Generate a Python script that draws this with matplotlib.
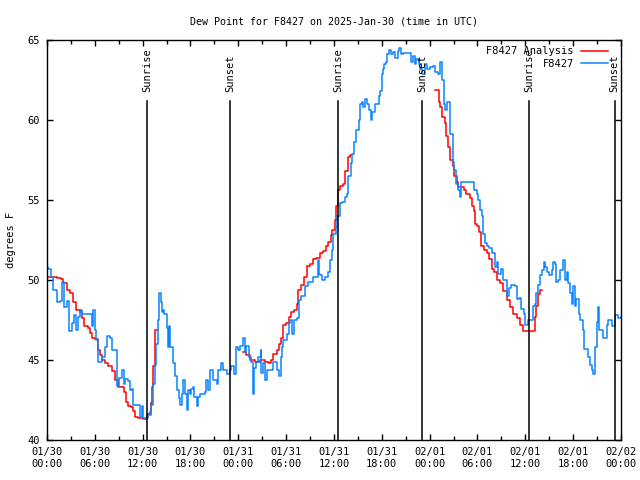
import numpy as np
import pandas as pd
import matplotlib
matplotlib.use("Agg")
import matplotlib.pyplot as plt
import matplotlib.dates as mdates

# -----------------------------
# Data (hours after 2025-01-30 00:00 UTC)
# -----------------------------
START = pd.Timestamp("2025-01-30 00:00")

obs_hours = [
    0.0, 0.16, 0.5, 0.8, 1.2, 1.6, 1.9, 2.1, 2.5, 2.7, 3.1, 3.4, 3.7, 3.9, 4.1, 4.4,
    5.4, 5.6, 5.8, 6.0, 6.2, 6.4, 6.9, 7.3, 7.5, 7.9, 8.1, 8.5, 8.75, 9.0, 9.4, 9.6,
    9.8, 10.2, 10.4, 10.6, 10.8, 11.4, 11.7, 11.9, 12.1, 12.3, 12.7, 13.0, 13.1, 13.3,
    13.5, 13.7, 13.9, 14.1, 14.3, 14.4, 14.6, 14.7, 15.0, 15.2, 15.3, 15.45, 15.85,
    16.1, 16.3, 16.5, 16.7, 16.9, 17.1, 17.3, 17.5, 17.7, 17.9, 18.1, 18.35, 18.5,
    18.8, 19.0, 19.2, 19.8, 20.0, 20.2, 20.5, 20.8, 21.3, 21.5, 21.8, 22.1, 22.6,
    22.9, 23.1, 23.5, 23.7, 24.0, 24.2, 24.55, 24.8, 25.0, 25.4, 25.6, 25.8, 26.0,
    26.2, 26.5, 26.8, 26.9, 27.1, 27.4, 27.6, 28.0, 28.4, 28.8, 29.1, 29.3, 29.5,
    29.65, 30.1, 30.3, 30.5, 30.7, 31.0, 31.4, 31.65, 31.9, 32.4, 32.8, 33.2, 33.4,
    33.8, 33.95, 34.1, 34.3, 34.5, 34.9, 35.2, 35.5, 35.7, 35.9, 36.3, 36.4, 36.7,
    37.0, 37.4, 37.6, 37.8, 38.1, 38.2, 38.5, 38.8, 39.1, 39.3, 39.5, 39.6, 39.9,
    40.2, 40.4, 40.6, 40.8, 41.15, 41.6, 41.8, 42.0, 42.2, 42.3, 42.5, 42.7, 42.95,
    43.1, 43.4, 43.7, 44.0, 44.2, 44.4, 44.7, 45.1, 45.4, 45.6, 45.9, 46.1, 46.3,
    46.6, 46.8, 47.1, 47.4, 47.7, 48.0, 48.4, 48.7, 49.1, 49.3, 49.5, 49.8, 49.9,
    50.2, 50.5, 50.6, 50.9, 51.1, 51.3, 51.6, 51.8, 51.9, 53.3, 53.5, 53.9, 54.1,
    54.3, 54.6, 54.75, 55.0, 55.2, 55.5, 55.8, 56.2, 56.4, 56.6, 57.0, 57.25, 57.75,
    57.9, 58.2, 58.7, 58.9, 59.2, 59.5, 59.8, 60.0, 60.3, 60.8, 60.9, 61.2, 61.4,
    61.6, 61.8, 62.1, 62.3, 62.5, 62.7, 63.0, 63.3, 63.5, 63.7, 63.9, 64.1, 64.3,
    64.7, 65.0, 65.2, 65.4, 65.6, 65.8, 66.0, 66.25, 66.4, 66.7, 66.9, 67.2, 67.4,
    67.9, 68.1, 68.3, 68.5, 68.7, 69.0, 69.1, 69.3, 69.8, 70.2, 70.4, 70.9, 71.3,
    71.6, 72.0,
]
obs_dewpt = [
    50.8, 50.7, 50.2, 49.4, 48.6, 48.7, 49.9, 48.3, 48.7, 46.8, 47.3, 47.8, 46.9, 47.7, 48.1, 47.9,
    47.9, 47.1, 48.1, 46.9, 46.25, 44.9, 45.2, 45.8, 46.5, 46.4, 45.6, 45.6, 43.4, 43.9, 44.4, 43.5,
    43.8, 43.7, 43.1, 43.2, 42.2, 42.2, 41.45, 42.1, 41.35, 41.4, 41.55, 41.6, 42.2, 43.5,
    44.7, 46.0, 47.5, 49.2, 48.6, 48.0, 48.1, 47.9, 47.0, 45.8, 47.1, 45.8, 44.8,
    44.0, 43.1, 42.6, 42.2, 42.9, 43.75, 42.9, 41.9, 43.1, 42.9, 43.2, 43.3, 42.7,
    42.1, 42.7, 42.9, 43.0, 43.75, 43.1, 44.4, 43.75, 43.5, 44.4, 44.8, 44.4, 44.1,
    44.4, 44.6, 44.1, 45.8, 45.6, 45.9, 46.4, 45.5, 45.9, 45.2, 44.9, 42.9, 44.5,
    44.9, 45.2, 45.6, 44.2, 44.8, 43.75, 44.4, 44.4, 44.9, 44.4, 44.0, 45.2, 45.8,
    46.25, 46.6, 47.3, 47.5, 46.6, 47.5, 47.6, 48.75, 49.0, 49.6, 49.9, 49.9, 50.2,
    50.2, 51.25, 50.4, 50.3, 50.0, 50.2, 50.5, 51.25, 51.9, 52.9, 53.3, 54.0, 54.8,
    54.9, 55.2, 55.4, 56.5, 57.3, 57.9, 58.6, 59.4, 60.0, 61.0, 61.1, 60.8, 61.3,
    61.0, 60.6, 60.0, 60.5, 61.0, 61.5, 61.8, 62.9, 63.2, 63.5, 63.6, 64.1, 64.4,
    64.1, 64.25, 63.9, 64.3, 64.5, 64.1, 64.2, 64.2, 64.2, 63.6, 64.0, 63.5, 63.8,
    63.5, 63.2, 62.9, 63.5, 63.2, 63.3, 63.4, 63.0, 62.9, 63.6, 62.5, 61.0, 60.6,
    61.1, 60.4, 59.1, 57.4, 56.9, 56.0, 55.6, 55.2, 56.15, 56.15, 55.6, 55.4, 55.0,
    54.4, 54.0, 52.9, 52.3, 52.1, 52.0, 51.7, 50.8, 51.1, 50.4, 50.7, 50.0, 49.0,
    49.5, 49.7, 49.6, 48.8, 48.9, 48.2, 47.9, 47.2, 47.5, 47.5, 48.4, 48.5, 49.2,
    49.7, 50.3, 50.6, 51.1, 50.8, 50.5, 50.3, 50.6, 51.1, 51.0, 49.9, 50.0, 50.6,
    51.25, 50.0, 50.5, 49.8, 49.2, 48.5, 49.6, 48.4, 48.8, 47.9, 47.5, 46.9, 45.7,
    45.2, 44.7, 44.4, 44.1, 45.8, 47.4, 48.3, 46.9, 46.4, 47.2, 47.5, 47.1, 47.8,
    47.6, 47.7,
]

# analysis comes in three pieces (NaN = gap)
ana_hours = [
    0.0, 1.2, 1.8, 2.0, 2.5, 2.9, 3.3, 3.7, 4.1, 4.35, 4.7, 5.1, 5.4, 5.7, 6.0, 6.35,
    6.6, 6.9, 7.3, 7.6, 8.1, 8.5, 8.9, 9.4, 9.6, 9.9, 10.2, 10.5, 10.8, 11.1, 11.4,
    12.0, 12.3, 12.6, 12.9, 13.05, 13.2, 13.3, 13.5, 13.6, 13.8,
    13.9,
    24.6, 25.0, 25.5, 26.1, 26.7, 27.3, 27.8, 28.1, 28.4, 28.8, 29.15, 29.3, 29.6,
    30.0, 30.3, 30.6, 31.0, 31.3, 31.5, 31.9, 32.25, 32.6, 33.0, 33.4, 33.8, 34.25,
    34.6, 35.0, 35.3, 35.6, 35.8, 36.1, 36.3, 36.55, 36.8, 37.1, 37.4, 37.7, 38.0,
    38.1,
    48.7, 48.9, 49.2, 49.3, 49.5, 49.9, 50.1, 50.3, 50.6, 50.9, 51.1, 51.4, 51.6,
    52.0, 52.3, 52.6, 53.0, 53.3, 53.5, 53.7, 53.9, 54.25, 54.5, 54.8, 55.2, 55.5,
    55.8, 56.1, 56.4, 56.8, 57.25, 57.7, 58.1, 58.5, 59.0, 59.3, 59.7, 61.0, 61.2,
    61.4, 61.6, 61.8, 62.1,
]
ana_dewpt = [
    50.2, 50.15, 50.05, 49.8, 49.4, 49.2, 48.65, 48.1, 48.0, 47.6, 47.1, 47.0, 46.7, 46.35, 46.3, 45.6,
    45.3, 45.0, 44.8, 44.6, 44.3, 43.75, 43.3, 43.3, 43.0, 42.4, 42.1, 42.05, 41.8, 41.45, 41.35,
    41.3, 41.3, 41.65, 41.75, 42.3, 43.3, 44.6, 46.25, 46.9, 46.9,
    np.nan,
    45.5, 45.3, 45.0, 44.9, 45.0, 44.9, 44.8, 45.0, 45.4, 45.6, 46.0, 46.4, 47.2,
    47.3, 47.7, 48.0, 48.1, 48.5, 49.4, 49.7, 50.2, 50.9, 51.0, 51.3, 51.4, 51.7,
    51.8, 52.1, 52.4, 52.8, 53.1, 53.75, 54.6, 55.6, 55.9, 56.0, 56.8, 57.7, 57.8,
    np.nan,
    61.9, 61.85, 61.1, 60.8, 60.2, 59.8, 59.0, 58.3, 57.5, 57.1, 56.5, 56.1, 55.8,
    55.8, 55.6, 55.4, 55.1, 54.6, 54.3, 53.5, 53.4, 53.0, 52.1, 51.9, 51.7, 51.3,
    50.7, 50.5, 50.0, 49.8, 49.3, 48.75, 48.3, 47.9, 47.6, 47.2, 46.8, 46.8, 47.7,
    48.4, 49.1, 49.4, 49.4,
]

sun_hours = [12.53, 23.0, 36.55, 47.1, 60.5, 71.2]
sun_labels = ["Sunrise", "Sunset", "Sunrise", "Sunset", "Sunrise", "Sunset"]

to_time = lambda hrs: START + pd.to_timedelta(hrs, unit="h")

# -----------------------------
# Plot
# -----------------------------
plt.rcParams["font.family"] = "DejaVu Sans Mono"
plt.rcParams["font.size"] = 7.5

fig = plt.figure(figsize=(6.4, 4.8), dpi=100)
ax = fig.add_axes([47 / 640, 40 / 480, 574 / 640, 400 / 480])

ax.plot(to_time(ana_hours), ana_dewpt, color="#ff0000", lw=1.1,
        drawstyle="steps-post", label="F8427 Analysis")
ax.plot(to_time(obs_hours), obs_dewpt, color="#0a84ff", lw=1.1,
        drawstyle="steps-post", label="F8427")

for h, lab in zip(sun_hours, sun_labels):
    t = to_time(h)
    ax.plot([t, t], [40, 61.2], color="black", lw=1.1, zorder=3)
    ax.text(t, 61.75, lab, rotation=90, ha="center", va="bottom")

ax.set_xlim(to_time(0), to_time(72))
ax.set_ylim(40, 65)
ax.set_yticks([40, 45, 50, 55, 60, 65])

ax.xaxis.set_major_locator(mdates.HourLocator(byhour=[0, 6, 12, 18]))
ax.xaxis.set_minor_locator(mdates.HourLocator(byhour=[3, 9, 15, 21]))
ax.xaxis.set_major_formatter(mdates.DateFormatter("%m/%d\n%H:%M"))

ax.tick_params(which="both", direction="in", top=True, right=True, width=1)
ax.tick_params(which="major", length=4.5, pad=5)
ax.tick_params(which="minor", length=3)
for s in ax.spines.values():
    s.set_linewidth(1)

ax.set_title("Dew Point for F8427 on 2025-Jan-30 (time in UTC)",
             fontsize=7.2, pad=11)
ax.set_ylabel("degrees F", labelpad=8)

ax.legend(loc="upper right", bbox_to_anchor=(0.985, 0.995), frameon=False,
          markerfirst=False, handlelength=2.6, handletextpad=0.7,
          labelspacing=0.25, borderaxespad=0.0)

fig.savefig("out.png", dpi=100)
